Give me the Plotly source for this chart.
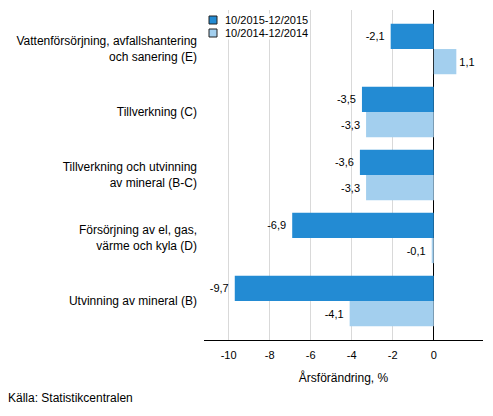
import plotly.graph_objects as go

categories = [
    "Vattenförsörjning, avfallshantering<br>och sanering (E)",
    "Tillverkning (C)",
    "Tillverkning och utvinning<br>av mineral (B-C)",
    "Försörjning av el, gas,<br>värme och kyla (D)",
    "Utvinning av mineral (B)",
]
series_2015 = [-2.1, -3.5, -3.6, -6.9, -9.7]
series_2014 = [1.1, -3.3, -3.3, -0.1, -4.1]
name_2015 = "10/2015-12/2015"
name_2014 = "10/2014-12/2014"
color_2015 = "#238bd3"
color_2014 = "#a3cfee"
x_ticks = [-10, -8, -6, -4, -2, 0]

def fmt(v):
    s = f"{v:.1f}".replace(".", ",")
    return s + " " if v < 0 else s

FONT = "Liberation Sans, Arial, sans-serif"
W, H = 493, 416
L, R, T, B = 204, 10, 10, 76
PW, PH = W - L - R, H - T - B

fig = go.Figure()
for vals, name, col in [(series_2015, name_2015, color_2015), (series_2014, name_2014, color_2014)]:
    fig.add_trace(go.Bar(
        y=categories, x=vals, orientation="h", name=name,
        marker=dict(color=col, line=dict(width=0)),
        text=[fmt(v) for v in vals], textposition="outside",
        textfont=dict(size=11, color="#000"), cliponaxis=False,
        showlegend=False,
    ))

def px_x(p):
    return (p - L) / PW

def px_y(p):
    return (H - B - p) / PH

# manual legend (squares + labels)
for i, (name, col) in enumerate([(name_2015, color_2015), (name_2014, color_2014)]):
    cy = 20 + 13 * i
    fig.add_shape(type="rect", xref="paper", yref="paper",
                  x0=px_x(209), x1=px_x(217), y0=px_y(cy + 4), y1=px_y(cy - 4),
                  fillcolor=col, line=dict(color="#222", width=1), layer="above")
    fig.add_annotation(text=name, xref="paper", yref="paper",
                       x=px_x(224), y=px_y(cy), xanchor="left", yanchor="middle",
                       showarrow=False, font=dict(size=11), borderpad=0,
                       bgcolor="rgba(255,255,255,0.85)")

fig.update_layout(
    width=W, height=H,
    margin=dict(l=L, r=R, t=T, b=B),
    paper_bgcolor="white", plot_bgcolor="white",
    font=dict(family=FONT, size=12, color="#000"),
    barmode="group", bargap=0.2, bargroupgap=0,
    showlegend=False,
    xaxis=dict(
        range=[-11.2, 2.4], tickvals=x_ticks,
        ticktext=[str(t) for t in x_ticks],
        showgrid=True, gridcolor="#d9d9d9", gridwidth=1,
        zeroline=True, zerolinecolor="#000", zerolinewidth=1,
        showline=True, linecolor="#000", linewidth=1,
        ticks="", tickfont=dict(size=11), ticklabelstandoff=5,
        automargin=False,
        title=dict(text="Årsförändring, %", font=dict(size=12), standoff=13),
    ),
    yaxis=dict(
        type="category", range=[4.62, -0.62],
        showgrid=False, zeroline=False, showline=False,
        ticks="", ticklabelstandoff=6, tickfont=dict(size=12),
        automargin=False,
    ),
)
fig.add_annotation(text="Källa: Statistikcentralen", xref="paper", yref="paper",
                   x=px_x(6), y=px_y(398), xanchor="left", yanchor="middle",
                   showarrow=False, font=dict(size=12))

fig.write_html("out.html", config={"displayModeBar": False},
               post_script="document.body.style.margin='0';")
